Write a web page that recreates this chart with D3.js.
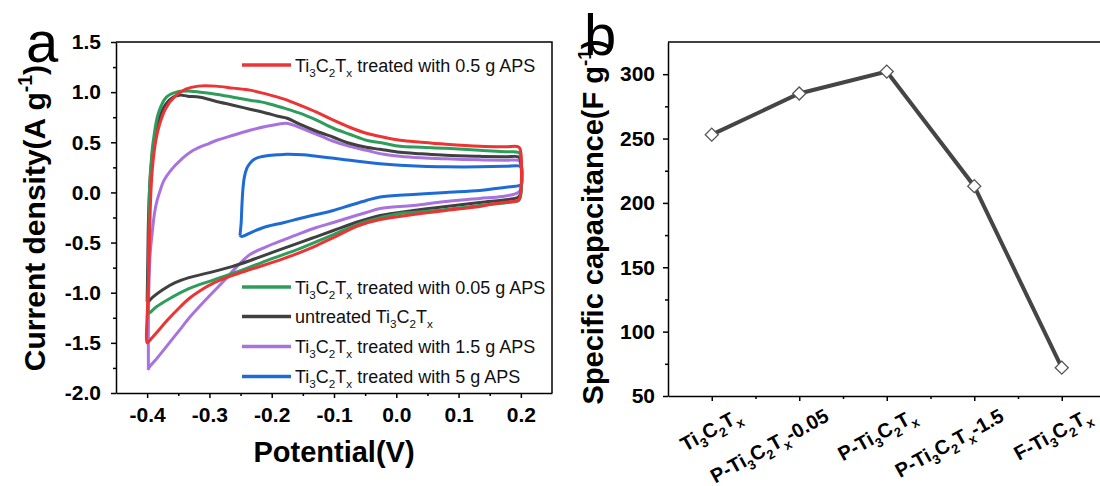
<!DOCTYPE html>
<html>
<head>
<meta charset="utf-8">
<script src="https://cdn.jsdelivr.net/npm/d3@7"></script>
<style>
  html, body { margin: 0; padding: 0; background: #fff; }
  svg { display: block; font-family: Arial, "Liberation Sans", sans-serif; }
</style>
</head>
<body>
<div id="chart"></div>
<script>
// ---- data: CV curves, [potential V, current density A/g]
const cvRed05 = [
  [-0.401,-1.38],[-0.398,-0.90],[-0.396,-0.40],[-0.394,0.00],[-0.391,0.28],[-0.386,0.52],[-0.380,0.68],
  [-0.370,0.84],[-0.355,0.96],[-0.338,1.03],[-0.318,1.06],[-0.290,1.06],[-0.262,1.04],[-0.235,1.02],
  [-0.208,0.98],[-0.180,0.93],[-0.155,0.87],[-0.128,0.80],[-0.101,0.72],[-0.075,0.65],[-0.048,0.59],
  [-0.020,0.55],[0.006,0.52],[0.040,0.50],[0.080,0.48],[0.134,0.46],[0.175,0.455],[0.196,0.455],
  [0.199,0.43],[0.199,-0.04],[0.196,-0.08],[0.187,-0.09],[0.160,-0.11],[0.134,-0.14],[0.080,-0.18],
  [0.027,-0.22],[-0.026,-0.27],[-0.060,-0.33],[-0.101,-0.45],[-0.128,-0.53],[-0.155,-0.60],[-0.181,-0.66],
  [-0.200,-0.70],[-0.235,-0.77],[-0.264,-0.83],[-0.292,-0.90],[-0.315,-0.98],[-0.333,-1.06],[-0.350,-1.16],
  [-0.367,-1.27],[-0.385,-1.40],[-0.395,-1.47],[-0.400,-1.50],[-0.401,-1.38]
];
const cvGreen005 = [
  [-0.399,-1.20],[-0.398,-0.80],[-0.397,-0.30],[-0.396,0.06],[-0.393,0.35],[-0.390,0.52],[-0.382,0.79],
  [-0.369,0.95],[-0.353,1.00],[-0.330,1.01],[-0.315,1.00],[-0.290,0.98],[-0.262,0.95],[-0.235,0.92],
  [-0.208,0.89],[-0.180,0.84],[-0.155,0.79],[-0.128,0.72],[-0.101,0.64],[-0.075,0.58],[-0.048,0.52],
  [-0.020,0.49],[0.006,0.46],[0.040,0.45],[0.080,0.44],[0.134,0.42],[0.175,0.405],[0.196,0.40],
  [0.199,0.38],[0.199,-0.05],[0.195,-0.085],[0.180,-0.10],[0.134,-0.13],[0.080,-0.17],[0.027,-0.20],
  [0.006,-0.21],[-0.048,-0.29],[-0.101,-0.42],[-0.128,-0.49],[-0.155,-0.56],[-0.208,-0.68],[-0.250,-0.78],
  [-0.292,-0.87],[-0.333,-0.96],[-0.367,-1.07],[-0.385,-1.14],[-0.396,-1.20],[-0.399,-1.21]
];
const cvUntreated = [
  [-0.400,-1.09],[-0.399,-0.70],[-0.398,-0.30],[-0.396,0.05],[-0.393,0.30],[-0.388,0.55],[-0.380,0.75],
  [-0.370,0.88],[-0.358,0.95],[-0.348,0.97],[-0.335,0.96],[-0.315,0.95],[-0.290,0.91],[-0.262,0.87],
  [-0.235,0.83],[-0.208,0.79],[-0.190,0.76],[-0.175,0.74],[-0.155,0.68],[-0.128,0.61],[-0.101,0.55],
  [-0.075,0.49],[-0.048,0.45],[-0.026,0.43],[0.006,0.40],[0.040,0.385],[0.080,0.37],[0.134,0.36],
  [0.175,0.355],[0.196,0.355],[0.199,0.33],[0.199,-0.02],[0.195,-0.05],[0.180,-0.07],[0.134,-0.10],
  [0.080,-0.14],[0.027,-0.18],[-0.026,-0.23],[-0.060,-0.29],[-0.101,-0.38],[-0.128,-0.44],[-0.155,-0.50],
  [-0.200,-0.60],[-0.235,-0.68],[-0.264,-0.74],[-0.300,-0.80],[-0.333,-0.85],[-0.355,-0.90],[-0.375,-0.97],
  [-0.390,-1.04],[-0.398,-1.09]
];
const cvPurple15 = [
  [-0.398,-1.76],[-0.398,-1.30],[-0.397,-0.90],[-0.395,-0.60],[-0.392,-0.41],[-0.388,-0.20],[-0.384,-0.08],
  [-0.378,0.04],[-0.373,0.12],[-0.362,0.22],[-0.345,0.33],[-0.326,0.42],[-0.300,0.49],[-0.288,0.52],
  [-0.262,0.57],[-0.235,0.62],[-0.208,0.66],[-0.190,0.68],[-0.176,0.69],[-0.160,0.66],[-0.144,0.62],
  [-0.120,0.56],[-0.101,0.51],[-0.075,0.46],[-0.048,0.42],[-0.020,0.38],[0.006,0.36],[0.040,0.345],
  [0.080,0.335],[0.134,0.325],[0.175,0.32],[0.196,0.32],[0.199,0.30],[0.199,0.02],[0.193,-0.01],
  [0.170,-0.04],[0.134,-0.06],[0.080,-0.09],[0.027,-0.13],[-0.026,-0.16],[-0.048,-0.20],[-0.075,-0.25],
  [-0.101,-0.30],[-0.128,-0.35],[-0.155,-0.41],[-0.180,-0.47],[-0.208,-0.54],[-0.235,-0.62],[-0.256,-0.74],
  [-0.275,-0.87],[-0.292,-0.98],[-0.315,-1.13],[-0.331,-1.24],[-0.345,-1.35],[-0.358,-1.45],[-0.372,-1.56],
  [-0.385,-1.66],[-0.395,-1.73],[-0.399,-1.77]
];
const cvBlue5 = [
  [-0.251,-0.43],[-0.249,-0.30],[-0.248,-0.15],[-0.246,0.05],[-0.244,0.15],[-0.240,0.24],[-0.235,0.29],
  [-0.228,0.33],[-0.218,0.355],[-0.208,0.365],[-0.190,0.375],[-0.176,0.38],[-0.150,0.375],[-0.128,0.36],
  [-0.100,0.34],[-0.074,0.32],[-0.048,0.30],[-0.026,0.285],[0.006,0.27],[0.040,0.26],[0.080,0.255],
  [0.134,0.255],[0.175,0.26],[0.196,0.265],[0.201,0.25],[0.202,0.15],[0.201,0.08],[0.195,0.065],
  [0.188,0.06],[0.160,0.04],[0.134,0.02],[0.080,0.00],[0.027,-0.02],[-0.026,-0.045],[-0.048,-0.08],
  [-0.075,-0.13],[-0.101,-0.18],[-0.128,-0.22],[-0.155,-0.26],[-0.180,-0.30],[-0.208,-0.34],[-0.230,-0.39],
  [-0.248,-0.44],[-0.251,-0.43]
];

// ---- data: specific capacitance
const samples = ['Ti_3C_2T_x', 'P-Ti_3C_2T_x-0.05', 'P-Ti_3C_2T_x', 'P-Ti_3C_2T_x-1.5', 'F-Ti_3C_2T_x'];
const capacitance = [253, 285, 302, 213, 72];

const potTicks = [-0.4, -0.3, -0.2, -0.1, 0.0, 0.1, 0.2];
const potMinor = [-0.35, -0.25, -0.15, -0.05, 0.05, 0.15];
const curTicks = [-2.0, -1.5, -1.0, -0.5, 0.0, 0.5, 1.0, 1.5];
const curMinor = [-1.75, -1.25, -0.75, -0.25, 0.25, 0.75, 1.25];
const capTicks = [50, 100, 150, 200, 250, 300];
const capMinor = [75, 125, 175, 225, 275];

const W = 1100, H = 486;
const FONT = 'Arial, "Liberation Sans", sans-serif';
const svg = d3.select('#chart').append('svg')
  .attr('width', W).attr('height', H)
  .attr('viewBox', `0 0 ${W} ${H}`);

// text with _x subscripts and ^{..} superscripts
function richText(sel, str, fs) {
  const parts = str.split(/(_.|\^\{[^}]*\})/).filter(s => s.length);
  let off = 0;
  parts.forEach(p => {
    let t = p, size = fs, target = 0;
    if (p[0] === '_') { t = p.slice(1); size = fs * 0.65; target = fs * 0.28; }
    else if (p[0] === '^') { t = p.slice(2, -1); size = fs * 0.65; target = -fs * 0.42; }
    sel.append('tspan').attr('dy', target - off).style('font-size', size + 'px').text(t);
    off = target;
  });
}

function styleAxis(a, fs) {
  a.select('.domain').attr('stroke-width', 1.5);
  a.selectAll('.tick line').attr('stroke-width', 1.5);
  a.selectAll('.tick text').style('font-size', fs + 'px').style('font-weight', 'bold')
    .style('font-family', FONT).attr('fill', '#000');
}

// ================= panel a =================
const xA = d3.scaleLinear().domain([-0.45, 0.25]).range([116, 552]);
const yA = d3.scaleLinear().domain([-2.0, 1.5]).range([393, 42]);
const fmtA = v => d3.format('.1f')(v).replace('\u2212', '-');

const gA = svg.append('g');

// frame (top and right)
gA.append('path')
  .attr('d', `M${xA(-0.45)},${yA(1.5)}H${xA(0.25)}V${yA(-2)}`)
  .attr('fill', 'none').attr('stroke', '#000').attr('stroke-width', 1.5);

const axA_x = gA.append('g').attr('transform', `translate(0,${yA(-2)})`)
  .call(d3.axisBottom(xA).tickValues(potTicks).tickSize(5).tickSizeOuter(0).tickPadding(9).tickFormat(fmtA));
gA.append('g').attr('transform', `translate(0,${yA(-2)})`)
  .call(d3.axisBottom(xA).tickValues(potMinor).tickSize(3).tickFormat(''))
  .call(g => g.select('.domain').remove());

const axA_y = gA.append('g').attr('transform', `translate(${xA(-0.45)},0)`)
  .call(d3.axisLeft(yA).tickValues(curTicks).tickSize(5).tickSizeOuter(0).tickPadding(10).tickFormat(fmtA));
gA.append('g').attr('transform', `translate(${xA(-0.45)},0)`)
  .call(d3.axisLeft(yA).tickValues(curMinor).tickSize(3).tickFormat(''))
  .call(g => g.select('.domain').remove());

styleAxis(axA_x, 21);
styleAxis(axA_y, 21);
gA.selectAll('.tick line').attr('stroke-width', 1.5);

// curves
const lineA = d3.line().x(d => xA(d[0])).y(d => yA(d[1])).curve(d3.curveCatmullRom.alpha(0.5));
const seriesA = [
  { data: cvBlue5, color: '#1f6bd6', label: 'Ti_3C_2T_x treated with 5 g APS' },
  { data: cvPurple15, color: '#a873de', label: 'Ti_3C_2T_x treated with 1.5 g APS' },
  { data: cvUntreated, color: '#404040', label: 'untreated Ti_3C_2T_x' },
  { data: cvGreen005, color: '#2e9d5c', label: 'Ti_3C_2T_x treated with 0.05 g APS' },
  { data: cvRed05, color: '#ec3434', label: 'Ti_3C_2T_x treated with 0.5 g APS' }
];
gA.append('g').selectAll('path').data(seriesA).join('path')
  .attr('d', d => lineA(d.data))
  .attr('fill', 'none')
  .attr('stroke', d => d.color)
  .attr('stroke-width', 3)
  .attr('stroke-linejoin', 'round');

// legend
const legendRows = [
  { s: seriesA[4], y: 65 },
  { s: seriesA[3], y: 287 },
  { s: seriesA[2], y: 316.5 },
  { s: seriesA[1], y: 346.5 },
  { s: seriesA[0], y: 376.5 }
];
const leg = gA.append('g').selectAll('g').data(legendRows).join('g')
  .attr('transform', d => `translate(242,${d.y})`);
leg.append('line').attr('x1', 0).attr('x2', 49).attr('stroke', d => d.s.color).attr('stroke-width', 3.5);
leg.append('text').attr('x', 53).attr('y', 6.5).style('font-size', '18px').attr('fill', '#111')
  .each(function (d) { richText(d3.select(this), d.s.label, 18); });

// titles
gA.append('text')
  .attr('transform', `translate(${(xA(-0.45) + xA(0.25)) / 2},462)`)
  .attr('text-anchor', 'middle').style('font-size', '29px').style('font-weight', 'bold')
  .text('Potential(V)');
gA.append('text')
  .attr('transform', 'translate(45,218) rotate(-90)')
  .attr('text-anchor', 'middle').style('font-size', '30px').style('font-weight', 'bold')
  .each(function () { richText(d3.select(this), 'Current density(A g^{-1})', 30); });
svg.append('text').attr('x', 26).attr('y', 62).style('font-size', '58px').text('a');

// ================= panel b =================
const xB = d3.scaleLinear().domain([0.5, 5.5]).range([668, 1105.5]);
const yB = d3.scaleLinear().domain([50, 325]).range([396, 42]);
const gB = svg.append('g');

gB.append('line').attr('x1', xB(0.5)).attr('x2', W).attr('y1', yB(325)).attr('y2', yB(325))
  .attr('stroke', '#000').attr('stroke-width', 1.5);

const axB_y = gB.append('g').attr('transform', `translate(${xB(0.5)},0)`)
  .call(d3.axisLeft(yB).tickValues(capTicks).tickSize(5).tickSizeOuter(0).tickPadding(8));
gB.append('g').attr('transform', `translate(${xB(0.5)},0)`)
  .call(d3.axisLeft(yB).tickValues(capMinor).tickSize(3).tickFormat(''))
  .call(g => g.select('.domain').remove());

const axB_x = gB.append('g').attr('transform', `translate(0,${yB(50)})`)
  .call(d3.axisBottom(xB).tickValues([1, 2, 3, 4, 5]).tickSize(5).tickSizeOuter(0).tickFormat(''));
gB.append('g').attr('transform', `translate(0,${yB(50)})`)
  .call(d3.axisBottom(xB).tickValues([1.5, 2.5, 3.5, 4.5]).tickSize(3).tickFormat(''))
  .call(g => g.select('.domain').remove());

styleAxis(axB_x, 21);
styleAxis(axB_y, 21);
gB.selectAll('.tick line').attr('stroke-width', 1.5);

// rotated category labels
gB.append('g').selectAll('text').data(samples).join('text')
  .attr('transform', (d, i) => `translate(${xB(i + 1) + 31},420) rotate(-29)`)
  .attr('text-anchor', 'end').style('font-size', '20px').style('font-weight', 'bold')
  .each(function (d) { richText(d3.select(this), d, 20); });

const lineB = d3.line().x((d, i) => xB(i + 1)).y(d => yB(d));
gB.append('path').attr('d', lineB(capacitance))
  .attr('fill', 'none').attr('stroke', '#454545').attr('stroke-width', 4);
gB.append('g').selectAll('path').data(capacitance).join('path')
  .attr('transform', (d, i) => `translate(${xB(i + 1)},${yB(d)}) rotate(45)`)
  .attr('d', d3.symbol(d3.symbolSquare, 85))
  .attr('fill', '#fff').attr('stroke', '#555').attr('stroke-width', 1.3);

gB.append('text')
  .attr('transform', 'translate(603,222) rotate(-90)')
  .attr('text-anchor', 'middle').style('font-size', '29px').style('font-weight', 'bold')
  .each(function () { richText(d3.select(this), 'Specific capacitance(F g^{-1})', 29); });
svg.append('text').attr('x', 584).attr('y', 55).style('font-size', '58px').text('b');
</script>
</body>
</html>
